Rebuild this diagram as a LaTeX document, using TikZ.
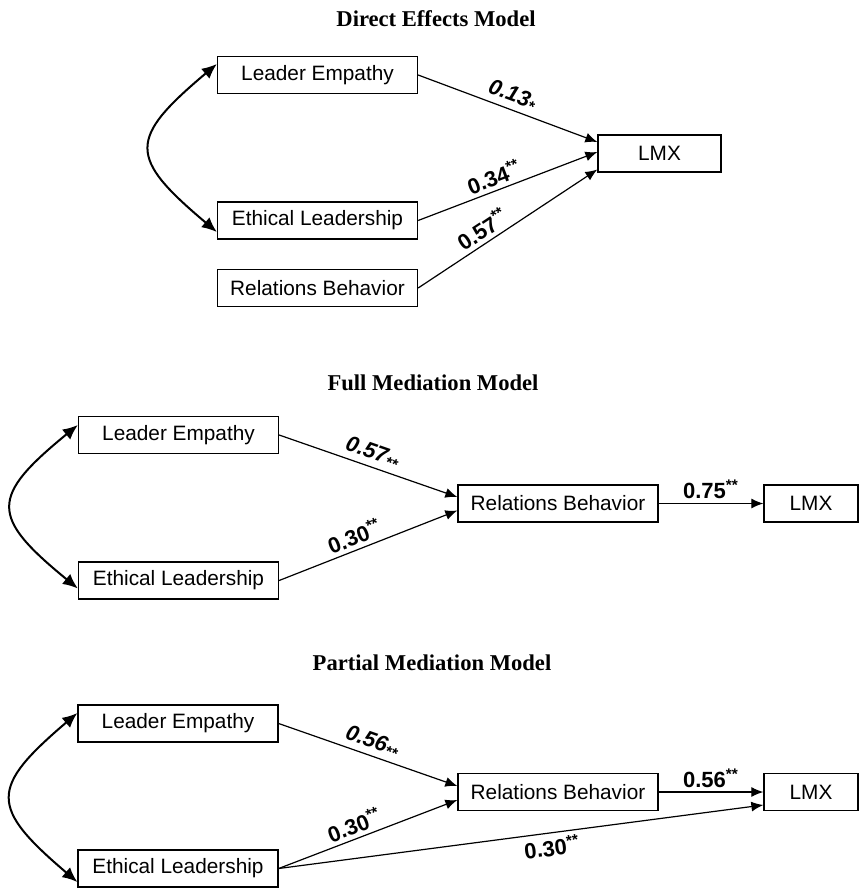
\documentclass[tikz,border=0pt]{standalone}
\usepackage{fontspec}
\setmainfont{Liberation Serif}
\setsansfont{Liberation Sans}
\usepackage{tikz}
\usetikzlibrary{arrows.meta}
\tikzset{
	box/.style={draw, line width=0.65pt, minimum width=100pt, minimum height=18.5pt, inner sep=0pt, font=\sffamily\fontsize{10.4}{12}\selectfont},
	lmxbox/.style={box, minimum width=47pt},
	link/.style={-{Latex[length=6pt, width=5pt]}, line width=0.6pt},
	covar/.style={{Latex[length=7.5pt, width=6.5pt]}-{Latex[length=7.5pt, width=6.5pt]}, line width=1pt},
	coef/.style={font=\sffamily\bfseries\fontsize{11}{12}\selectfont, inner sep=2pt},
	heading/.style={font=\bfseries\fontsize{11.3}{13}\selectfont, anchor=base}
}

\begin{document}
\begin{tikzpicture}[x=0.5pt, y=-0.5pt]
			%%%%% START %%%%%
			
			\useasboundingbox (0, 0) rectangle (859, 888);
			
			% direct effects
			\node[heading] (title1) at (436, 26.5) {Direct Effects Model};
			\node[box] (emp1) at (317.5, 75) {Leader Empathy};
			\node[box] (eth1) at (317.5, 220.5) {Ethical Leadership};
			\node[box] (rel1) at (317.5, 288) {Relations Behavior};
			\node[lmxbox, minimum width=61.5pt] (lmx1) at (659.5, 153.5) {LMX};
			
			\draw[covar] ([yshift=5.5pt]emp1.west) .. controls +(-89, 75) and +(-89, -75) .. ([yshift=-5.75pt]eth1.west);
			\draw[link] (emp1.east) -- node[coef, sloped, above, pos=0.5] {\itshape 0.13\textsubscript{*}} ([yshift=5.75pt]lmx1.west);
			\draw[link] (eth1.east) -- node[coef, sloped, above, pos=0.45] {0.34\textsuperscript{**}} ([yshift=0.75pt]lmx1.west);
			\draw[link] (rel1.east) -- node[coef, sloped, above, pos=0.4] {0.57\textsuperscript{**}} ([yshift=-8pt]lmx1.west);
			
			% full mediation
			\node[heading] (title2) at (433, 390) {Full Mediation Model};
			\node[box] (emp2) at (178.5, 435) {Leader Empathy};
			\node[box] (eth2) at (178.5, 580.5) {Ethical Leadership};
			\node[box] (rel2) at (558, 503.5) {Relations Behavior};
			\node[lmxbox] (lmx2) at (811, 503.5) {LMX};
			
			\draw[covar] ([yshift=5pt]emp2.west) .. controls +(-88, 72) and +(-88, -72) .. ([yshift=-4pt]eth2.west);
			\draw[link] (emp2.east) -- node[coef, sloped, above, pos=0.5] {\itshape 0.57\textsubscript{**}} ([yshift=3.25pt]rel2.west);
			\draw[link] (eth2.east) -- node[coef, sloped, above, pos=0.45] {0.30\textsuperscript{**}} ([yshift=-3.5pt]rel2.west);
			\draw[link] (rel2.east) -- node[coef, above] {0.75\textsuperscript{**}} (lmx2.west);
			
			% partial mediation
			\node[heading] (title3) at (432, 670) {Partial Mediation Model};
			\node[box] (emp3) at (178, 723.5) {Leader Empathy};
			\node[box] (eth3) at (178, 868.5) {Ethical Leadership};
			\node[box] (rel3) at (558, 792) {Relations Behavior};
			\node[lmxbox] (lmx3) at (811, 792) {LMX};
			
			\draw[covar] ([yshift=5.25pt]emp3.west) .. controls +(-88, 75) and +(-88, -75) .. ([yshift=-6.75pt]eth3.west);
			\draw[link] (emp3.east) -- node[coef, sloped, above, pos=0.5] {\itshape 0.56\textsubscript{**}} ([yshift=3pt]rel3.west);
			\draw[link] (eth3.east) -- node[coef, sloped, above, pos=0.45] {0.30\textsuperscript{**}} ([yshift=-4pt]rel3.west);
			\draw[link] (rel3.east) -- node[coef, above] {0.56\textsuperscript{**}} (lmx3.west);
			\draw[link] (eth3.east) -- node[coef, sloped, below, pos=0.56] {0.30\textsuperscript{**}} ([yshift=-6.5pt]lmx3.west);
			
			%%%%% END %%%%%
		\end{tikzpicture}
\end{document}
